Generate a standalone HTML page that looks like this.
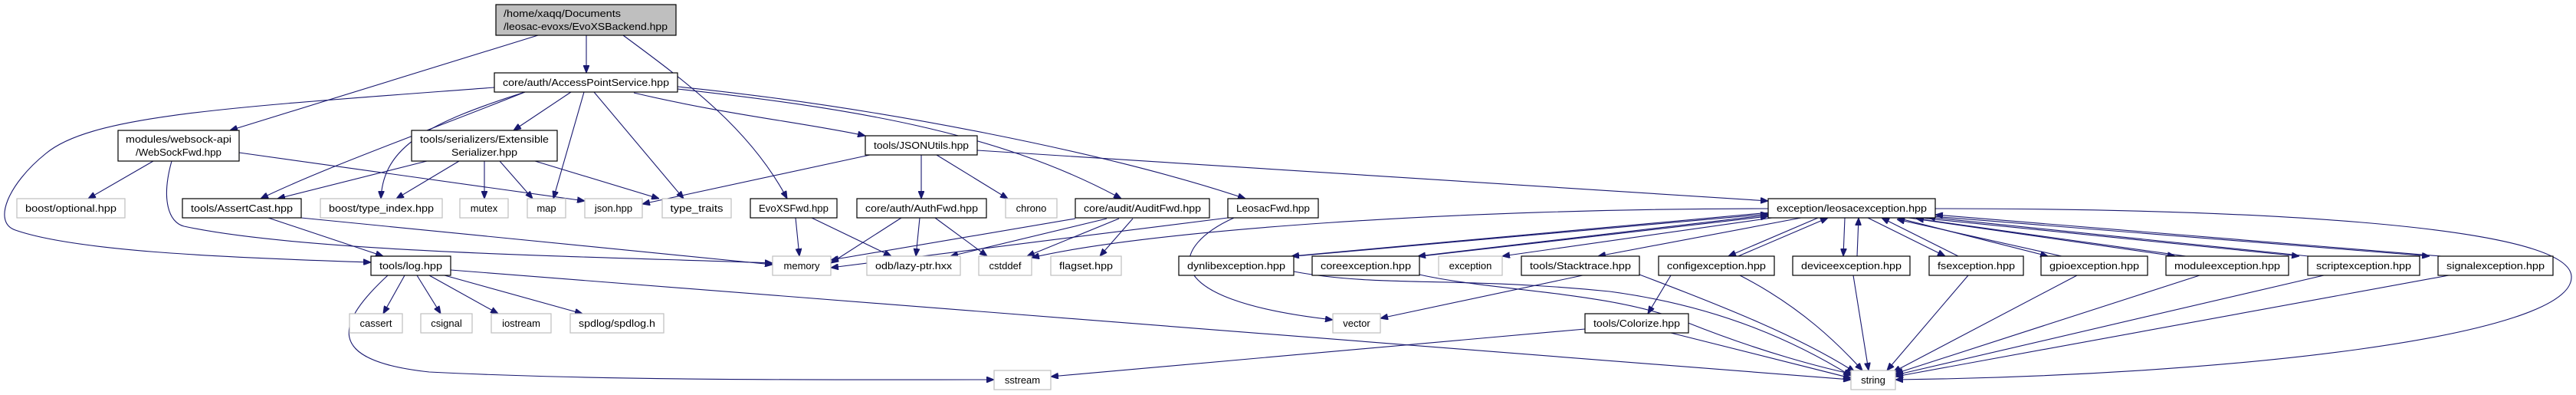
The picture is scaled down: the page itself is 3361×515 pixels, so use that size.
<!DOCTYPE html>
<html><head><meta charset="utf-8"><style>
html,body{margin:0;padding:0;background:#fff;}
svg{display:block;}
text{font-family:"Liberation Sans",sans-serif;font-size:13px;fill:#000;}
.n{fill:#fff;stroke:#000;stroke-width:1.2;}
.x{fill:#fff;stroke:#bfbfbf;stroke-width:1.2;}
.e{fill:none;stroke:#191970;stroke-width:1.1;marker-end:url(#a);}
</style></head><body>
<svg width="3361" height="515" viewBox="0 0 3361 515" xmlns="http://www.w3.org/2000/svg">
<defs><marker id="a" viewBox="0 0 10 8" refX="10" refY="4" markerWidth="10" markerHeight="8" markerUnits="userSpaceOnUse" orient="auto"><path d="M0,0L10,4L0,8z" fill="#191970" stroke="#191970"/></marker></defs>

<g>
<!-- root edges -->
<path class="e" d="M765,46L765,95"/>
<path class="e" d="M702,46L300,170"/>
<path class="e" d="M813,46C900,110 980,170 1027,259"/>
<!-- APS edges -->
<path class="e" d="M645,114C300,140 120,150 60,200C10,240 -10,290 20,300C100,328 300,336 484,342"/>
<path class="e" d="M685,120C560,170 420,220 340,259"/>
<path class="e" d="M685,120C560,160 500,190 497,259"/>
<path class="e" d="M745,120L670,170"/>
<path class="e" d="M762,120L722,259"/>
<path class="e" d="M775,120L892,259"/>
<path class="e" d="M827,121C950,150 1050,160 1129,177"/>
<path class="e" d="M884,116C1100,140 1300,170 1463,259"/>
<path class="e" d="M884,113C1150,140 1450,200 1625,259"/>
<!-- WebSockFwd -->
<path class="e" d="M200,210L115,259"/>
<path class="e" d="M312,199L763,262"/>
<path class="e" d="M224,210C210,260 220,290 240,295C400,330 800,335 1008,343"/>
<!-- ExtSer -->
<path class="e" d="M557,210L362,259"/>
<path class="e" d="M599,210L517,259"/>
<path class="e" d="M632,210L632,259"/>
<path class="e" d="M652,210L695,259"/>
<path class="e" d="M698,210L860,259"/>
<!-- AssertCast -->
<path class="e" d="M350,284L500,334"/>
<path class="e" d="M393,284L1008,345"/>
<!-- log -->
<path class="e" d="M528,359L500,409"/>
<path class="e" d="M544,359L575,409"/>
<path class="e" d="M560,359L650,409"/>
<path class="e" d="M580,359L760,409"/>
<path class="e" d="M588,352L2415,495"/>
<path class="e" d="M506,359C440,420 420,470 560,485C800,497 1100,495 1297,495"/>
<!-- EvoXSFwd -->
<path class="e" d="M1038,284L1043,334"/>
<path class="e" d="M1059,284L1163,334"/>
<!-- AuthFwd -->
<path class="e" d="M1176,284L1084,343"/>
<path class="e" d="M1200,284L1195,334"/>
<path class="e" d="M1220,284L1288,334"/>
<!-- AuditFwd -->
<path class="e" d="M1403,285L1084,339"/>
<path class="e" d="M1444,285L1240,334"/>
<path class="e" d="M1460,285L1340,334"/>
<path class="e" d="M1478,285L1435,334"/>
<!-- LeosacFwd -->
<path class="e" d="M1602,284L1084,349"/>
<path class="e" d="M1610,284C1530,320 1500,390 1739,417"/>
<!-- JSONUtils -->
<path class="e" d="M1202,202L1202,259"/>
<path class="e" d="M1222,202L1315,259"/>
<path class="e" d="M1135,202L838,266"/>
<path class="e" d="M1275,196L2307,262"/>
<!-- leosacexception -->
<path class="e" d="M2307,272C1900,272 1500,300 1346,336"/>
<path class="e" d="M2525,272C2900,272 3350,290 3355,360C3360,440 2900,490 2473,495"/>
<!-- leosac <-> children -->
<path class="e" d="M2310,277L1685,334"/>
<path class="e" d="M1690,334L2307,279"/>
<path class="e" d="M2310,280L1850,334"/>
<path class="e" d="M1855,334L2307,282"/>
<path class="e" d="M2312,284L1960,334"/>
<path class="e" d="M2350,284L2085,334"/>
<path class="e" d="M2372,284L2255,334"/>
<path class="e" d="M2268,334L2385,284"/>
<path class="e" d="M2407,284L2405,334"/>
<path class="e" d="M2423,334L2425,284"/>
<path class="e" d="M2437,284L2538,334"/>
<path class="e" d="M2555,334L2455,284"/>
<path class="e" d="M2475,284L2672,334"/>
<path class="e" d="M2690,334L2475,286"/>
<path class="e" d="M2490,284L2838,334"/>
<path class="e" d="M2852,334L2500,285"/>
<path class="e" d="M2505,284L3000,334"/>
<path class="e" d="M3012,334L2515,283"/>
<path class="e" d="M2520,282L3170,334"/>
<path class="e" d="M3185,334L2525,280"/>
<!-- children -> string -->
<path class="e" d="M1688,354C1800,375 1900,360 2100,380C2250,400 2350,450 2415,490"/>
<path class="e" d="M1852,358C1950,380 2100,380 2200,420C2300,460 2380,480 2418,488"/>
<path class="e" d="M2139,358C2250,400 2350,440 2420,485"/>
<path class="e" d="M2270,359C2350,400 2400,450 2430,483"/>
<path class="e" d="M2418,359L2438,483"/>
<path class="e" d="M2568,359L2462,483"/>
<path class="e" d="M2710,359L2470,485"/>
<path class="e" d="M2870,359L2473,487"/>
<path class="e" d="M3032,359L2473,489"/>
<path class="e" d="M3195,359L2473,491"/>
<!-- Stacktrace, config, Colorize -->
<path class="e" d="M2065,359L1801,415"/>
<path class="e" d="M2180,359L2150,409"/>
<path class="e" d="M2068,429L1371,491"/>
<path class="e" d="M2180,434L2415,493"/>
</g>

<!-- nodes -->
<rect x="647" y="6" width="235" height="40" fill="#bfbfbf" stroke="#000" stroke-width="1.2"/>
<text x="657" y="22" textLength="153" lengthAdjust="spacingAndGlyphs">/home/xaqq/Documents</text>
<text x="657" y="39" textLength="214" lengthAdjust="spacingAndGlyphs">/leosac-evoxs/EvoXSBackend.hpp</text>

<rect class="n" x="645" y="95" width="239" height="25"/><text x="764.5" y="112" text-anchor="middle" textLength="217" lengthAdjust="spacingAndGlyphs">core/auth/AccessPointService.hpp</text>
<rect class="n" x="154" y="170" width="158" height="40"/><text x="233" y="186" text-anchor="middle" textLength="138" lengthAdjust="spacingAndGlyphs">modules/websock-api</text><text x="233" y="203" text-anchor="middle" textLength="112" lengthAdjust="spacingAndGlyphs">/WebSockFwd.hpp</text>
<rect class="n" x="537" y="170" width="190" height="40"/><text x="632" y="186" text-anchor="middle" textLength="168" lengthAdjust="spacingAndGlyphs">tools/serializers/Extensible</text><text x="632" y="203" text-anchor="middle" textLength="86" lengthAdjust="spacingAndGlyphs">Serializer.hpp</text>
<rect class="n" x="1129" y="177" width="146" height="25"/><text x="1202" y="194" text-anchor="middle" textLength="124" lengthAdjust="spacingAndGlyphs">tools/JSONUtils.hpp</text>

<rect class="x" x="22" y="259" width="141" height="25"/><text x="92.5" y="276" text-anchor="middle" textLength="119" lengthAdjust="spacingAndGlyphs">boost/optional.hpp</text>
<rect class="n" x="238" y="259" width="155" height="25"/><text x="315.5" y="276" text-anchor="middle" textLength="133" lengthAdjust="spacingAndGlyphs">tools/AssertCast.hpp</text>
<rect class="x" x="418" y="259" width="159" height="25"/><text x="497.5" y="276" text-anchor="middle" textLength="137" lengthAdjust="spacingAndGlyphs">boost/type_index.hpp</text>
<rect class="x" x="600" y="259" width="63" height="25"/><text x="631.5" y="276" text-anchor="middle">mutex</text>
<rect class="x" x="688" y="259" width="50" height="25"/><text x="713" y="276" text-anchor="middle">map</text>
<rect class="x" x="763" y="259" width="75" height="25"/><text x="800.5" y="276" text-anchor="middle">json.hpp</text>
<rect class="x" x="864" y="259" width="90" height="25"/><text x="909" y="276" text-anchor="middle" textLength="69" lengthAdjust="spacingAndGlyphs">type_traits</text>
<rect class="n" x="979" y="259" width="113" height="25"/><text x="1035.5" y="276" text-anchor="middle" textLength="91" lengthAdjust="spacingAndGlyphs">EvoXSFwd.hpp</text>
<rect class="n" x="1118" y="259" width="169" height="25"/><text x="1202.5" y="276" text-anchor="middle" textLength="147" lengthAdjust="spacingAndGlyphs">core/auth/AuthFwd.hpp</text>
<rect class="x" x="1312" y="259" width="67" height="25"/><text x="1345.5" y="276" text-anchor="middle">chrono</text>
<rect class="n" x="1403" y="259" width="175" height="25"/><text x="1490.5" y="276" text-anchor="middle" textLength="153" lengthAdjust="spacingAndGlyphs">core/audit/AuditFwd.hpp</text>
<rect class="n" x="1602" y="259" width="118" height="25"/><text x="1661" y="276" text-anchor="middle" textLength="96" lengthAdjust="spacingAndGlyphs">LeosacFwd.hpp</text>
<rect class="n" x="2307" y="259" width="218" height="25"/><text x="2416" y="276" text-anchor="middle" textLength="196" lengthAdjust="spacingAndGlyphs">exception/leosacexception.hpp</text>

<rect class="n" x="484" y="334" width="104" height="25"/><text x="536" y="351" text-anchor="middle" textLength="82" lengthAdjust="spacingAndGlyphs">tools/log.hpp</text>
<rect class="x" x="1008" y="334" width="76" height="25"/><text x="1046" y="351" text-anchor="middle">memory</text>
<rect class="x" x="1131" y="334" width="122" height="25"/><text x="1192" y="351" text-anchor="middle" textLength="100" lengthAdjust="spacingAndGlyphs">odb/lazy-ptr.hxx</text>
<rect class="x" x="1277" y="334" width="69" height="25"/><text x="1311.5" y="351" text-anchor="middle">cstddef</text>
<rect class="x" x="1371" y="334" width="92" height="25"/><text x="1417" y="351" text-anchor="middle" textLength="70" lengthAdjust="spacingAndGlyphs">flagset.hpp</text>
<rect class="n" x="1538" y="334" width="150" height="25"/><text x="1613" y="351" text-anchor="middle" textLength="128" lengthAdjust="spacingAndGlyphs">dynlibexception.hpp</text>
<rect class="n" x="1712" y="334" width="140" height="25"/><text x="1782" y="351" text-anchor="middle" textLength="118" lengthAdjust="spacingAndGlyphs">coreexception.hpp</text>
<rect class="x" x="1877" y="334" width="83" height="25"/><text x="1918.5" y="351" text-anchor="middle">exception</text>
<rect class="n" x="1985" y="334" width="154" height="25"/><text x="2062" y="351" text-anchor="middle" textLength="132" lengthAdjust="spacingAndGlyphs">tools/Stacktrace.hpp</text>
<rect class="n" x="2164" y="334" width="151" height="25"/><text x="2239.5" y="351" text-anchor="middle" textLength="129" lengthAdjust="spacingAndGlyphs">configexception.hpp</text>
<rect class="n" x="2339" y="334" width="153" height="25"/><text x="2415.5" y="351" text-anchor="middle" textLength="131" lengthAdjust="spacingAndGlyphs">deviceexception.hpp</text>
<rect class="n" x="2517" y="334" width="123" height="25"/><text x="2578.5" y="351" text-anchor="middle" textLength="101" lengthAdjust="spacingAndGlyphs">fsexception.hpp</text>
<rect class="n" x="2663" y="334" width="139" height="25"/><text x="2732.5" y="351" text-anchor="middle" textLength="117" lengthAdjust="spacingAndGlyphs">gpioexception.hpp</text>
<rect class="n" x="2826" y="334" width="160" height="25"/><text x="2906" y="351" text-anchor="middle" textLength="138" lengthAdjust="spacingAndGlyphs">moduleexception.hpp</text>
<rect class="n" x="3011" y="334" width="146" height="25"/><text x="3084" y="351" text-anchor="middle" textLength="124" lengthAdjust="spacingAndGlyphs">scriptexception.hpp</text>
<rect class="n" x="3181" y="334" width="150" height="25"/><text x="3256" y="351" text-anchor="middle" textLength="128" lengthAdjust="spacingAndGlyphs">signalexception.hpp</text>

<rect class="x" x="456" y="409" width="69" height="25"/><text x="490.5" y="426" text-anchor="middle">cassert</text>
<rect class="x" x="549" y="409" width="67" height="25"/><text x="582.5" y="426" text-anchor="middle">csignal</text>
<rect class="x" x="641" y="409" width="78" height="25"/><text x="680" y="426" text-anchor="middle">iostream</text>
<rect class="x" x="744" y="409" width="122" height="25"/><text x="805" y="426" text-anchor="middle" textLength="100" lengthAdjust="spacingAndGlyphs">spdlog/spdlog.h</text>
<rect class="x" x="1739" y="409" width="62" height="25"/><text x="1770" y="426" text-anchor="middle">vector</text>
<rect class="n" x="2068" y="409" width="135" height="25"/><text x="2135.5" y="426" text-anchor="middle" textLength="113" lengthAdjust="spacingAndGlyphs">tools/Colorize.hpp</text>

<rect class="x" x="1297" y="483" width="74" height="25"/><text x="1334" y="500" text-anchor="middle">sstream</text>
<rect class="x" x="2415" y="483" width="58" height="25"/><text x="2444" y="500" text-anchor="middle">string</text>
</svg>
</body></html>
